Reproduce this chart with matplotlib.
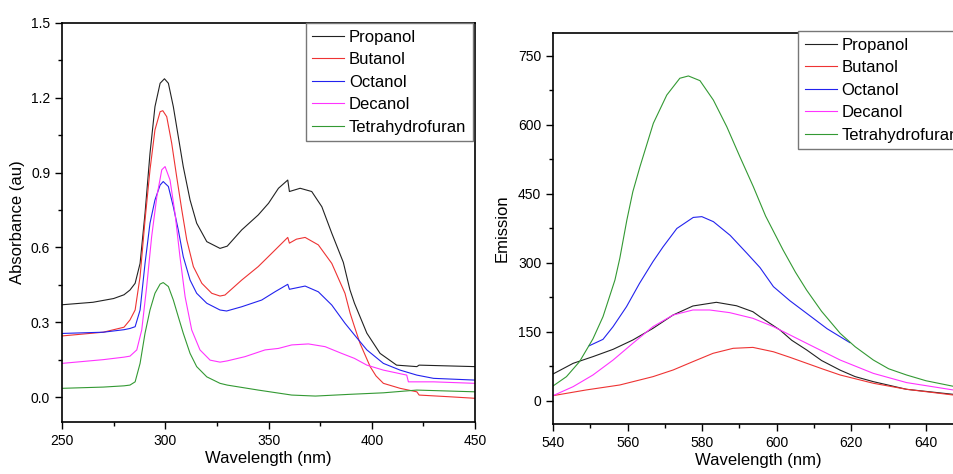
import matplotlib
matplotlib.use("Agg")
import matplotlib.pyplot as plt
from matplotlib.ticker import MultipleLocator, FormatStrFormatter

plt.rcParams['font.family'] = ['Liberation Sans', 'DejaVu Sans']

labels = ['Propanol', 'Butanol', 'Octanol', 'Decanol', 'Tetrahydrofuran']
colors = ['#222222', '#ee3333', '#2222ee', '#ff33ff', '#339933']

# absorbance spectra (wavelength nm, absorbance au)
prop_wl = [250, 265, 275, 280, 282.9, 285.4, 287.8, 290.2, 292.6, 295, 297.5, 299.6, 301.5, 303.9,
           306.3, 308.7, 312, 315.2, 320.1, 326.5, 330, 337, 345, 350, 354.8, 359.3, 360.1, 365.3,
           370.9, 375.8, 380.6, 386.2, 389.4, 391.6, 397.6, 404, 412, 421.8, 422.9, 450]
prop_ab = [0.37, 0.38, 0.395, 0.41, 0.429, 0.456, 0.536, 0.737, 0.977, 1.164, 1.258, 1.276, 1.258, 1.164,
           1.044, 0.924, 0.79, 0.697, 0.623, 0.596, 0.605, 0.67, 0.73, 0.777, 0.837, 0.87, 0.824, 0.837,
           0.824, 0.763, 0.657, 0.54, 0.43, 0.376, 0.256, 0.175, 0.128, 0.122, 0.128, 0.122]

but_wl = [250, 270, 280, 282.9, 285.4, 287.8, 290.2, 292.6, 295, 297.5, 298.8, 300.7, 303.1, 305.5,
          308, 310.4, 313.6, 317.7, 322.5, 326.5, 328.9, 337, 345, 351.5, 359.3, 360.1, 363.5, 367.7,
          374.1, 380.6, 387, 389.5, 391.6, 394.3, 399.2, 402, 405.6, 413.7, 421.8, 422.9, 438, 450]
but_ab = [0.245, 0.26, 0.28, 0.309, 0.349, 0.483, 0.71, 0.911, 1.071, 1.144, 1.148, 1.124, 1.018, 0.884,
          0.75, 0.63, 0.523, 0.456, 0.416, 0.405, 0.409, 0.469, 0.523, 0.576, 0.64, 0.617, 0.633, 0.64,
          0.61, 0.536, 0.416, 0.336, 0.282, 0.215, 0.122, 0.085, 0.055, 0.035, 0.021, 0.008, 0.001, -0.005]

oct_wl = [250, 270, 280, 282.9, 285.4, 287.8, 290.2, 292.6, 295, 297.5, 299, 301.5, 303.9, 306.3,
          308.7, 312, 315.2, 320.1, 326.5, 329.7, 337, 346.7, 353.1, 359.3, 360.1, 367.7, 374.1, 380.6,
          387, 391.6, 397.6, 405.6, 413.7, 421.8, 429.9, 450]
oct_ab = [0.255, 0.26, 0.27, 0.275, 0.282, 0.349, 0.536, 0.697, 0.79, 0.85, 0.864, 0.844, 0.763, 0.67,
          0.563, 0.469, 0.416, 0.376, 0.349, 0.345, 0.362, 0.389, 0.422, 0.452, 0.432, 0.445, 0.422, 0.369,
          0.296, 0.249, 0.189, 0.135, 0.108, 0.088, 0.075, 0.068]

dec_wl = [250, 270, 280, 282.9, 286.2, 288.6, 291, 293.4, 295.9, 298.3, 299.9, 302.3, 304.7, 307.1,
          309.6, 312.8, 316.8, 321.7, 326.5, 330, 338.6, 348.3, 354.8, 361.2, 369.3, 377.4, 385.4,
          391.6, 397.6, 405.6, 416.9, 417.7, 429.9, 450]
dec_ab = [0.135, 0.15, 0.16, 0.164, 0.189, 0.269, 0.443, 0.643, 0.803, 0.911, 0.924, 0.87, 0.737, 0.563,
          0.402, 0.269, 0.189, 0.148, 0.14, 0.145, 0.162, 0.189, 0.195, 0.209, 0.213, 0.202, 0.175,
          0.155, 0.128, 0.108, 0.088, 0.061, 0.061, 0.055]

thf_wl = [250, 270, 280, 282.9, 285.4, 287.8, 290.2, 292.6, 295, 297.5, 299, 301.5, 303.9, 306.3,
          308.7, 312, 315.2, 320.1, 326.5, 330, 345, 361.2, 372.7, 389.5, 405.6, 421.8, 450]
thf_ab = [0.035, 0.04, 0.045, 0.048, 0.061, 0.135, 0.256, 0.349, 0.416, 0.453, 0.459, 0.443, 0.389, 0.322,
          0.256, 0.175, 0.122, 0.081, 0.055, 0.048, 0.028, 0.008, 0.004, 0.011, 0.017, 0.028, 0.021]

# emission spectra (wavelength nm, intensity)
prop_ewl = [540, 545.4, 550.7, 556.1, 561.4, 566.8, 572.2, 577.5, 583.8, 589.2, 593.6, 595.5, 600.9,
            604, 608, 612, 617, 621, 625.9, 634.8, 647.3]
prop_em = [58.7, 81.9, 96.4, 112.3, 132.6, 157.9, 186.9, 206.5, 214.5, 207, 194, 183, 154,
           132, 111, 88, 67, 53, 42, 25.4, 14.5]

but_ewl = [540, 548.9, 557.9, 566.8, 572.2, 577.5, 582.9, 588.3, 593.6, 599.1, 603.5, 608, 612.5,
           617, 625.9, 634.8, 647.3]
but_em = [11.6, 24, 34.8, 52.9, 67.4, 85.5, 103.6, 114.5, 116.5, 107, 95, 82, 69,
          56.5, 38.5, 25.4, 13]

oct_ewl = [549.7, 553.4, 556.1, 559.7, 563.2, 566.8, 569.5, 573.2, 577.6, 579.9, 583, 587.5, 592,
           595.5, 599.1, 603.5, 608, 613.5, 619.6]
oct_em = [120, 134, 161.6, 205, 255.8, 303, 335, 375, 399, 400.7, 389.8, 360, 321,
          290, 248.5, 218, 190.6, 157, 126.8]

dec_ewl = [540, 545.4, 550.7, 556.1, 561.4, 566.8, 572.2, 577.5, 582, 587.4, 593.6, 599.1, 608, 617,
           625.9, 634.8, 647.3]
dec_em = [11.6, 31.2, 56.5, 89, 125.4, 161.6, 186.9, 197.8, 197.8, 192, 179.7, 161.6, 125.4, 89,
          60, 40, 24]

thf_ewl = [540, 543.6, 547.1, 550.7, 553.4, 556.6, 557.9, 559.8, 561.4, 563.3, 566.9, 570.5, 574,
           576.3, 579.4, 583, 586.6, 590.1, 593.7, 597, 601.7, 605, 608, 612, 617, 621, 625.9, 630,
           634.8, 640, 647.3]
thf_em = [32.6, 52.9, 85.5, 135, 183.3, 263, 310, 393.5, 455, 509, 603.7, 665, 701.5,
          706.5, 696.3, 654, 596, 531, 466, 402, 328, 280, 241, 195, 147, 118, 89, 70,
          56.5, 44, 32]

abs_data = [(prop_wl, prop_ab), (but_wl, but_ab), (oct_wl, oct_ab), (dec_wl, dec_ab), (thf_wl, thf_ab)]
em_data = [(prop_ewl, prop_em), (but_ewl, but_em), (oct_ewl, oct_em), (dec_ewl, dec_em), (thf_ewl, thf_em)]

fig = plt.figure(figsize=(9.54, 4.74), dpi=100)
ax1 = fig.add_axes([0.065, 0.1097, 0.433, 0.842])
ax2 = fig.add_axes([0.5797, 0.1055, 0.43, 0.825])

for (x, y), c, lab in zip(abs_data, colors, labels):
    ax1.plot(x, y, color=c, lw=0.8, label=lab)
for (x, y), c, lab in zip(em_data, colors, labels):
    ax2.plot(x, y, color=c, lw=0.8, label=lab)

ax1.set_xlim(250, 450)
ax1.set_ylim(-0.1, 1.5)
ax1.xaxis.set_major_locator(MultipleLocator(50))
ax1.xaxis.set_minor_locator(MultipleLocator(25))
ax1.yaxis.set_major_locator(MultipleLocator(0.3))
ax1.yaxis.set_minor_locator(MultipleLocator(0.15))
ax1.yaxis.set_major_formatter(FormatStrFormatter('%.1f'))
ax1.set_xlabel("Wavelength (nm)", fontsize=12, labelpad=2)
ax1.set_ylabel("Absorbance (au)", fontsize=12, labelpad=4)

ax2.set_xlim(540, 650)
ax2.set_ylim(-50, 800)
ax2.xaxis.set_major_locator(MultipleLocator(20))
ax2.xaxis.set_minor_locator(MultipleLocator(10))
ax2.yaxis.set_major_locator(MultipleLocator(150))
ax2.yaxis.set_minor_locator(MultipleLocator(75))
ax2.set_xlabel("Wavelength (nm)", fontsize=12, labelpad=2)
ax2.set_ylabel("Emission", fontsize=12, labelpad=6)

for ax in (ax1, ax2):
    ax.tick_params(which='both', direction='out', labelsize=10, width=1)
    ax.tick_params(which='major', length=5)
    ax.tick_params(which='minor', length=3)
    for s in ax.spines.values():
        s.set_linewidth(1.2)

leg_kw = dict(fontsize=12, frameon=True, fancybox=False, framealpha=1, edgecolor='#777777',
              handlelength=1.9, handletextpad=0.3, labelspacing=0.45, borderpad=0.4, borderaxespad=0)
l1 = ax1.legend(loc='upper right', bbox_to_anchor=(0.995, 1.0), **leg_kw)
l2 = ax2.legend(loc='upper left', bbox_to_anchor=(0.5976, 1.005), **leg_kw)

fig.savefig("out.png", dpi=100)
